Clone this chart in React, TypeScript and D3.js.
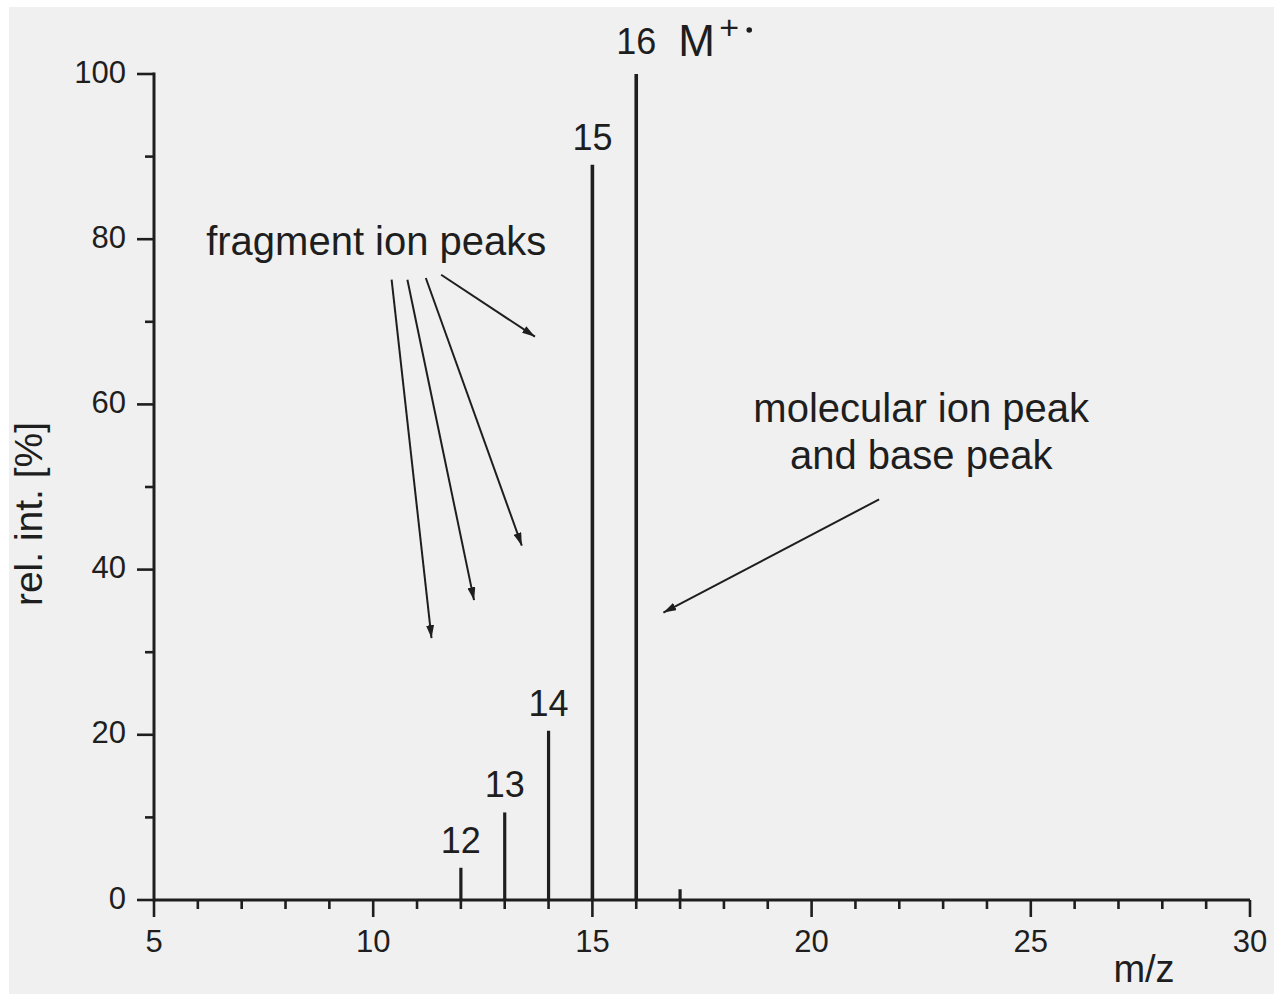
import React from "react";
import * as d3 from "d3";

const mzValues = [12, 13, 14, 15, 16, 17];
const intensities = [3.9, 10.6, 20.5, 89, 100, 1.3];
const peakLabels = ["12", "13", "14", "15", "16", ""];
const xTicks = [5, 10, 15, 20, 25, 30];
const yTicks = [0, 20, 40, 60, 80, 100];

// annotation arrows in data coordinates: [x1, y1, x2, y2]
const fragmentArrows = [
  [10.42, 75.1, 11.33, 31.7],
  [10.78, 75.1, 12.3, 36.3],
  [11.2, 75.3, 13.39, 42.9],
  [11.55, 75.7, 13.69, 68.2],
];
const molecularArrow = [21.54, 48.5, 16.62, 34.8];

const W = 1274;
const H = 994;
const FONT = "'Liberation Sans', Arial, Helvetica, sans-serif";
const INK = "#1e1e1e";

export default function App() {
  const x = d3.scaleLinear().domain([5, 30]).range([154, 1250]);
  const y = d3.scaleLinear().domain([0, 100]).range([900, 74]);
  const xMinor = d3.range(5, 31, 1).filter((v) => v % 5 !== 0);
  const yMinor = d3.range(10, 100, 20);

  return (
    <svg
      width={W}
      height={H}
      style={{ position: "absolute", left: 0, top: 0, display: "block" }}
      fontFamily={FONT}
    >
      <defs>
        <marker
          id="arr"
          viewBox="0 0 13 8"
          refX="13"
          refY="4"
          markerWidth="13"
          markerHeight="8"
          markerUnits="userSpaceOnUse"
          orient="auto"
        >
          <path d="M0,0 L13,4 L0,8 Z" fill={INK} />
        </marker>
      </defs>
      <rect x={0} y={0} width={W} height={H} fill="#ffffff" />
      <rect x={9} y={7} width={W - 9} height={H - 7} fill="#f0f0f0" />

      {/* peaks */}
      {mzValues.map((m, i) => (
        <line
          key={"p" + m}
          x1={x(m)}
          x2={x(m)}
          y1={y(0)}
          y2={y(intensities[i])}
          stroke={INK}
          strokeWidth={intensities[i] > 50 ? 3.6 : 3.2}
        />
      ))}
      {mzValues.map((m, i) =>
        peakLabels[i] ? (
          <text
            key={"l" + m}
            x={x(m)}
            y={y(intensities[i]) - (i === 4 ? 20 : 15)}
            textAnchor="middle"
            fontSize={36}
            fill={INK}
          >
            {peakLabels[i]}
          </text>
        ) : null
      )}
      {/* M+. */}
      <text x={x(16) + 42} y={56} fontSize={44} fill={INK}>
        M
      </text>
      <text x={x(16) + 83} y={39} fontSize={34} fill={INK}>
        +
      </text>
      <circle cx={x(16) + 113} cy={30} r={2.8} fill={INK} />

      {/* axes */}
      <line x1={x(5)} x2={x(30)} y1={y(0)} y2={y(0)} stroke={INK} strokeWidth={3} />
      <line x1={x(5)} x2={x(5)} y1={y(0) + 1.5} y2={y(100) - 1.5} stroke={INK} strokeWidth={3} />
      {xTicks.map((t) => (
        <g key={"xt" + t}>
          <line x1={x(t)} x2={x(t)} y1={y(0)} y2={y(0) + 17} stroke={INK} strokeWidth={2.6} />
          <text x={x(t)} y={952} textAnchor="middle" fontSize={31} fill={INK}>
            {t}
          </text>
        </g>
      ))}
      {xMinor.map((t) => (
        <line key={"xm" + t} x1={x(t)} x2={x(t)} y1={y(0)} y2={y(0) + 9} stroke={INK} strokeWidth={2.6} />
      ))}
      {yTicks.map((t) => (
        <g key={"yt" + t}>
          <line x1={x(5) - 17} x2={x(5)} y1={y(t)} y2={y(t)} stroke={INK} strokeWidth={2.6} />
          <text x={126} y={y(t) + 8.5} textAnchor="end" fontSize={31} fill={INK}>
            {t}
          </text>
        </g>
      ))}
      {yMinor.map((t) => (
        <line key={"ym" + t} x1={x(5) - 9} x2={x(5)} y1={y(t)} y2={y(t)} stroke={INK} strokeWidth={2.6} />
      ))}

      {/* axis titles */}
      <text x={1144} y={982} textAnchor="middle" fontSize={38} fill={INK}>
        m/z
      </text>
      <text
        transform={`translate(42, 514) rotate(-90)`}
        textAnchor="middle"
        fontSize={39}
        fill={INK}
      >
        rel. int. [%]
      </text>

      {/* annotations */}
      <text x={x(6.19)} y={y(78.1)} fontSize={40} fill={INK}>
        fragment ion peaks
      </text>
      {fragmentArrows.map((a, i) => (
        <line
          key={"fa" + i}
          x1={x(a[0])}
          y1={y(a[1])}
          x2={x(a[2])}
          y2={y(a[3])}
          stroke={INK}
          strokeWidth={2}
          markerEnd="url(#arr)"
        />
      ))}
      <text x={x(22.5)} y={y(57.87)} textAnchor="middle" fontSize={40} fill={INK}>
        <tspan x={x(22.5)}>molecular ion peak</tspan>
        <tspan x={x(22.5)} dy={47}>
          and base peak
        </tspan>
      </text>
      <line
        x1={x(molecularArrow[0])}
        y1={y(molecularArrow[1])}
        x2={x(molecularArrow[2])}
        y2={y(molecularArrow[3])}
        stroke={INK}
        strokeWidth={2}
        markerEnd="url(#arr)"
      />
    </svg>
  );
}
